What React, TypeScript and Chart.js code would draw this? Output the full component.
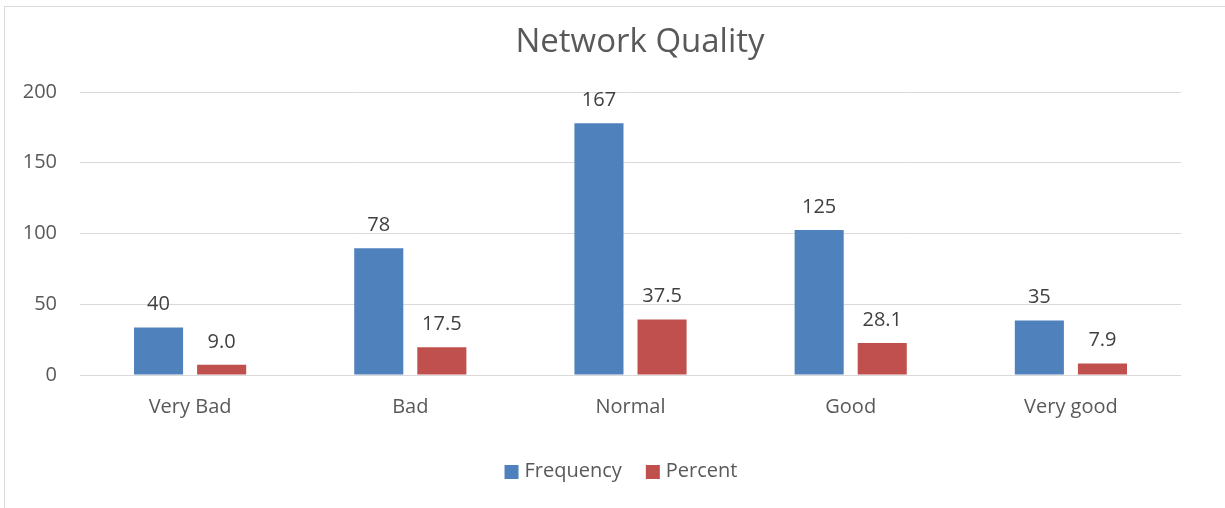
import React, { useEffect, useRef } from "react";
import { Chart, registerables } from "chart.js";

Chart.register(...registerables);

const categories = ["Very Bad", "Bad", "Normal", "Good", "Very good"];
const frequencyValues = [33.5, 89.5, 178, 102.5, 38.5];
const percentValues = [7.2, 19.6, 39.3, 22.7, 8.2];
const frequencyLabels = ["40", "78", "167", "125", "35"];
const percentLabels = ["9.0", "17.5", "37.5", "28.1", "7.9"];
const yTicks = [0, 50, 100, 150, 200];

const FONT = "'Open Sans', 'Noto Sans', sans-serif";
const TEXT = "#595959";

const titlePlugin = {
  id: "fixedTitle",
  afterDraw(chart: any) {
    const ctx = chart.ctx;
    ctx.save();
    ctx.font = `33px ${FONT}`;
    ctx.fillStyle = TEXT;
    ctx.textAlign = "center";
    ctx.textBaseline = "middle";
    ctx.fillText("Network Quality", 640, 43);
    ctx.restore();
  },
};

const legendPlugin = {
  id: "bottomLegend",
  afterDraw(chart: any) {
    const ctx = chart.ctx;
    ctx.save();
    ctx.font = `20px ${FONT}`;
    ctx.textBaseline = "middle";
    ctx.textAlign = "left";
    const box = 14;
    const gap = 6;
    const itemGap = 24;
    const items = chart.data.datasets.map((ds: any) => ({
      label: ds.label,
      color: ds.backgroundColor,
      w: ctx.measureText(ds.label).width,
    }));
    const total =
      items.reduce((s: number, it: any) => s + box + gap + it.w, 0) + itemGap * (items.length - 1);
    let x = 621 - total / 2;
    const cy = 472;
    items.forEach((it: any) => {
      ctx.fillStyle = it.color;
      ctx.fillRect(x, cy - box / 2, box, box);
      ctx.fillStyle = TEXT;
      ctx.fillText(it.label, x + box + gap, cy - 1);
      x += box + gap + it.w + itemGap;
    });
    ctx.restore();
  },
};

const valueLabelPlugin = {
  id: "valueLabels",
  afterDatasetsDraw(chart: any) {
    const ctx = chart.ctx;
    const texts = [frequencyLabels, percentLabels];
    ctx.save();
    ctx.font = `20px ${FONT}`;
    ctx.fillStyle = "#404040";
    ctx.textAlign = "center";
    ctx.textBaseline = "middle";
    chart.data.datasets.forEach((_: any, di: number) => {
      const meta = chart.getDatasetMeta(di);
      meta.data.forEach((bar: any, i: number) => {
        ctx.fillText(texts[di][i], bar.x, bar.y - 23);
      });
    });
    ctx.restore();
  },
};

export default function App() {
  const ref = useRef<HTMLCanvasElement>(null);
  useEffect(() => {
    if (!ref.current) return;
    const chart = new Chart(ref.current, {
      type: "bar",
      data: {
        labels: categories,
        datasets: [
          {
            label: "Frequency",
            data: frequencyValues,
            backgroundColor: "#4F81BD",
            categoryPercentage: 0.573,
            barPercentage: 0.778,
          },
          {
            label: "Percent",
            data: percentValues,
            backgroundColor: "#C0504D",
            categoryPercentage: 0.573,
            barPercentage: 0.778,
          },
        ],
      },
      options: {
        responsive: false,
        animation: false,
        layout: { padding: { top: 92, left: 0, right: 44, bottom: 73 } },
        plugins: {
          title: { display: false },
          tooltip: { enabled: false },
          legend: { display: false },
        },
        scales: {
          x: {
            grid: { display: false, drawTicks: false },
            border: { display: false },
            ticks: { color: TEXT, font: { family: FONT, size: 20 }, padding: 20 },
            afterFit(scale: any) {
              scale.height = 60;
            },
          },
          y: {
            min: 0,
            max: 200,
            afterBuildTicks(scale: any) {
              scale.ticks = yTicks.map((v) => ({ value: v }));
            },
            grid: { color: "#d9d9d9", lineWidth: 1, drawTicks: false },
            border: { display: false },
            ticks: { color: TEXT, font: { family: FONT, size: 20 }, padding: 23 },
            afterFit(scale: any) {
              scale.width = 80;
            },
          },
        },
      },
      plugins: [titlePlugin, valueLabelPlugin, legendPlugin],
    } as any);
    return () => chart.destroy();
  }, []);

  return (
    <div style={{ position: "fixed", left: 0, top: 0, width: 1225, height: 508, overflow: "hidden", background: "#fff" }}>
      <div
        style={{
          position: "absolute",
          left: 4,
          top: 6,
          width: 1400,
          height: 700,
          border: "1px solid #d9d9d9",
          boxSizing: "border-box",
        }}
      />
      <canvas ref={ref} width={1225} height={508} style={{ position: "absolute", left: 0, top: 0 }} />
    </div>
  );
}
